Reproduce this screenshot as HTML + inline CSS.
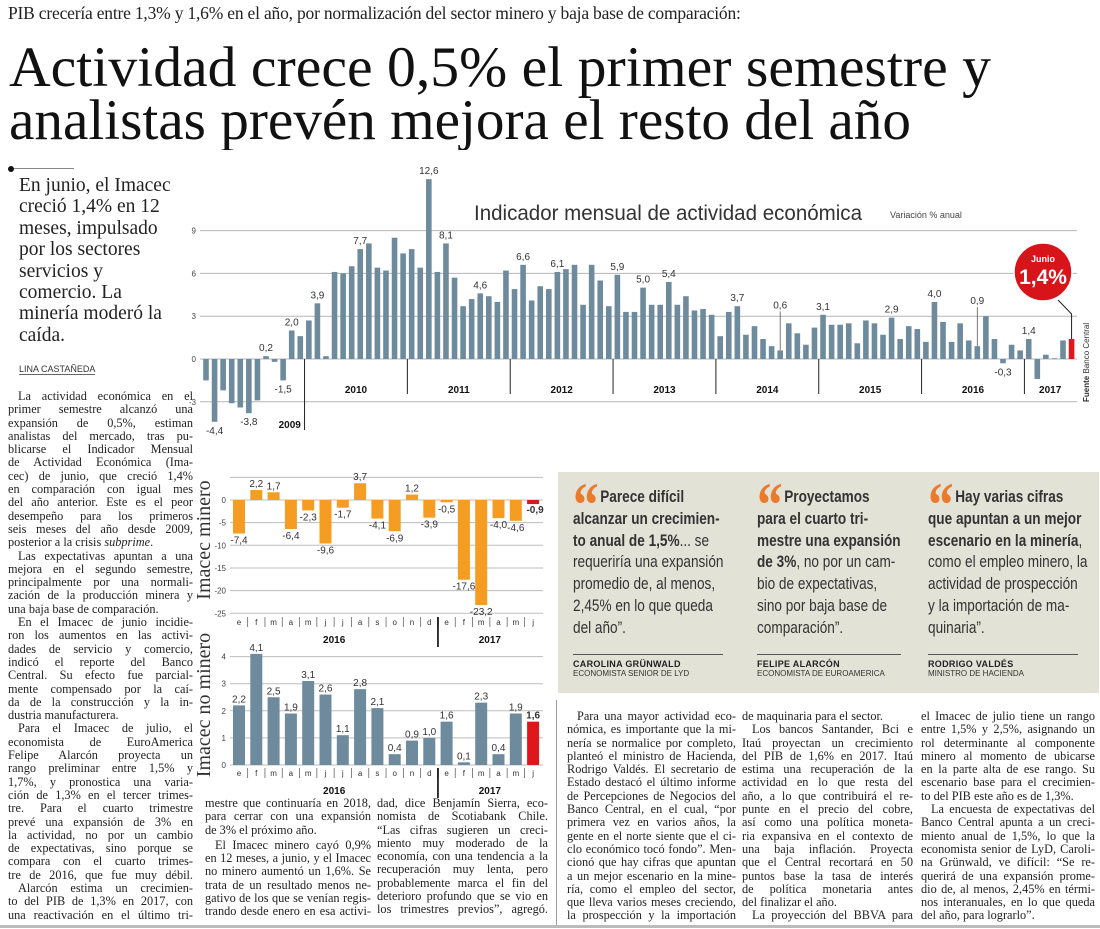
<!DOCTYPE html>
<html><head><meta charset="utf-8">
<style>
*{margin:0;padding:0;box-sizing:border-box}
body{width:1100px;height:929px;background:#fff;position:relative;overflow:hidden;font-family:"Liberation Serif",serif;color:#222}
.abs{position:absolute}
.col{position:absolute;font-family:"Liberation Serif",serif;font-size:12.3px;color:#222}
.col .l{display:block;height:13.3px;line-height:13.3px;text-align:justify;text-align-last:justify;overflow:hidden}
.col .e{text-align-last:left}
.col .i{text-indent:10px}
.q{position:absolute;font-family:"Liberation Sans Narrow","Liberation Sans",sans-serif;font-size:17px;color:#333;line-height:21.8px;white-space:nowrap;transform:scaleX(0.8);transform-origin:0 0}
.q b{color:#333}
.qm{color:#ec7a2c;font-family:"Liberation Serif",serif;font-weight:bold;font-size:64px;line-height:0;vertical-align:-24px;letter-spacing:-2px;margin-right:4px}
.qr{position:absolute;height:1px;background:#555}
.qn{position:absolute;font-family:"Liberation Sans",sans-serif;font-weight:bold;font-size:9px;color:#222;letter-spacing:.3px}
.qt{position:absolute;font-family:"Liberation Sans",sans-serif;font-size:8px;color:#333}
</style></head>
<body>
<div class="abs" style="left:8px;top:3px;font-size:17.5px;letter-spacing:-0.2px;color:#222">PIB crecería entre 1,3% y 1,6% en el año, por normalización del sector minero y baja base de comparación:</div>
<svg class="abs" style="left:0;top:0" width="1100" height="150">
<text x="9" y="86" font-family="Liberation Serif, serif" font-size="57" fill="#111" textLength="982" lengthAdjust="spacingAndGlyphs">Actividad crece 0,5% el primer semestre y</text>
<text x="9" y="139" font-family="Liberation Serif, serif" font-size="57" fill="#111" textLength="902" lengthAdjust="spacingAndGlyphs">analistas prevén mejora el resto del año</text>
</svg>

<div class="abs" style="left:10px;top:168px;width:64px;height:1px;background:#888"></div>
<div class="abs" style="left:8px;top:166px;width:6px;height:6px;border-radius:3px;background:#111"></div>
<div class="abs" style="left:19px;top:175px;width:185px;font-size:19.5px;line-height:21.4px;color:#222;white-space:nowrap">En junio, el Imacec<br>creció 1,4% en 12<br>meses, impulsado<br>por los sectores<br>servicios y<br>comercio. La<br>minería moderó la<br>caída.</div>
<div class="abs" style="left:19px;top:364px;font-family:'Liberation Sans Narrow','Liberation Sans',sans-serif;font-size:9px;color:#333;border-bottom:1px solid #666">LINA CASTAÑEDA</div>

<div class="col" style="left:8px;top:390px;width:185px">
<span class="l i">La actividad económica en el</span><span class="l">primer semestre alcanzó una</span><span class="l">expansión de 0,5%, estiman</span><span class="l">analistas del mercado, tras pu-</span><span class="l">blicarse el Indicador Mensual</span><span class="l">de Actividad Económica (Ima-</span><span class="l">cec) de junio, que creció 1,4%</span><span class="l">en comparación con igual mes</span><span class="l">del año anterior. Este es el peor</span><span class="l">desempeño para los primeros</span><span class="l">seis meses del año desde 2009,</span><span class="l e">posterior a la crisis <i>subprime</i>.</span>
<span class="l i">Las expectativas apuntan a una</span><span class="l">mejora en el segundo semestre,</span><span class="l">principalmente por una normali-</span><span class="l">zación de la producción minera y</span><span class="l e">una baja base de comparación.</span>
<span class="l i">En el Imacec de junio incidie-</span><span class="l">ron los aumentos en las activi-</span><span class="l">dades de servicio y comercio,</span><span class="l">indicó el reporte del Banco</span><span class="l">Central. Su efecto fue parcial-</span><span class="l">mente compensado por la caí-</span><span class="l">da de la construcción y la in-</span><span class="l e">dustria manufacturera.</span>
<span class="l i">Para el Imacec de julio, el</span><span class="l">economista de EuroAmerica</span><span class="l">Felipe Alarcón proyecta un</span><span class="l">rango preliminar entre 1,5% y</span><span class="l">1,7%, y pronostica una varia-</span><span class="l">ción de 1,3% en el tercer trimes-</span><span class="l">tre. Para el cuarto trimestre</span><span class="l">prevé una expansión de 3% en</span><span class="l">la actividad, no por un cambio</span><span class="l">de expectativas, sino porque se</span><span class="l">compara con el cuarto trimes-</span><span class="l">tre de 2016, que fue muy débil.</span>
<span class="l i">Alarcón estima un crecimien-</span><span class="l">to del PIB de 1,3% en 2017, con</span><span class="l">una reactivación en el último tri-</span>
</div>

<div class="col" style="left:205px;top:797px;width:166px">
<span class="l">mestre que continuaría en 2018,</span><span class="l">para cerrar con una expansión</span><span class="l e">de 3% el próximo año.</span>
<span class="l i" style="margin-top:2px">El Imacec minero cayó 0,9%</span><span class="l">en 12 meses, a junio, y el Imacec</span><span class="l">no minero aumentó un 1,6%. Se</span><span class="l">trata de un resultado menos ne-</span><span class="l">gativo de los que se venían regis-</span><span class="l">trando desde enero en esa activi-</span>
</div>
<div class="col" style="left:377px;top:797px;width:171px">
<span class="l">dad, dice Benjamín Sierra, eco-</span><span class="l">nomista de Scotiabank Chile.</span><span class="l">“Las cifras sugieren un creci-</span><span class="l">miento muy moderado de la</span><span class="l">economía, con una tendencia a la</span><span class="l">recuperación muy lenta, pero</span><span class="l">probablemente marca el fin del</span><span class="l">deterioro profundo que se vio en</span><span class="l">los trimestres previos”, agregó.</span>
</div>
<div class="col" style="left:567px;top:710px;width:169px">
<span class="l i">Para una mayor actividad eco-</span><span class="l">nómica, es importante que la mi-</span><span class="l">nería se normalice por completo,</span><span class="l">planteó el ministro de Hacienda,</span><span class="l">Rodrigo Valdés. El secretario de</span><span class="l">Estado destacó el último informe</span><span class="l">de Percepciones de Negocios del</span><span class="l">Banco Central, en el cual, “por</span><span class="l">primera vez en varios años, la</span><span class="l">gente en el norte siente que el ci-</span><span class="l">clo económico tocó fondo”. Men-</span><span class="l">cionó que hay cifras que apuntan</span><span class="l">a un mejor escenario en la mine-</span><span class="l">ría, como el empleo del sector,</span><span class="l">que lleva varios meses creciendo,</span><span class="l">la prospección y la importación</span>
</div>
<div class="col" style="left:742px;top:710px;width:171px">
<span class="l e">de maquinaria para el sector.</span><span class="l i">Los bancos Santander, Bci e</span><span class="l">Itaú proyectan un crecimiento</span><span class="l">del PIB de 1,6% en 2017. Itaú</span><span class="l">estima una recuperación de la</span><span class="l">actividad en lo que resta del</span><span class="l">año, a lo que contribuirá el re-</span><span class="l">punte en el precio del cobre,</span><span class="l">así como una política moneta-</span><span class="l">ria expansiva en el contexto de</span><span class="l">una baja inflación. Proyecta</span><span class="l">que el Central recortará en 50</span><span class="l">puntos base la tasa de interés</span><span class="l">de política monetaria antes</span><span class="l e">del finalizar el año.</span><span class="l i">La proyección del BBVA para</span>
</div>
<div class="col" style="left:921px;top:710px;width:174px">
<span class="l">el Imacec de julio tiene un rango</span><span class="l">entre 1,5% y 2,5%, asignando un</span><span class="l">rol determinante al componente</span><span class="l">minero al momento de ubicarse</span><span class="l">en la parte alta de ese rango. Su</span><span class="l">escenario base para el crecimien-</span><span class="l e">to del PIB este año es de 1,3%.</span><span class="l i">La encuesta de expectativas del</span><span class="l">Banco Central apunta a un creci-</span><span class="l">miento anual de 1,5%, lo que la</span><span class="l">economista senior de LyD, Caroli-</span><span class="l">na Grünwald, ve difícil: “Se re-</span><span class="l">querirá de una expansión prome-</span><span class="l">dio de, al menos, 2,45% en térmi-</span><span class="l">nos interanuales, en lo que queda</span><span class="l e">del año, para lograrlo”.</span>
</div>

<div class="abs" style="left:558px;top:472px;width:541px;height:221px;background:#e3e2d7"></div>
<div class="q" style="left:573px;top:486px"><span class="qm">“</span><b>Parece difícil</b><br><b>alcanzar un crecimien-</b><br><b>to anual de 1,5%</b>... se<br>requeriría una expansión<br>promedio de, al menos,<br>2,45% en lo que queda<br>del año”.</div>
<div class="q" style="left:757px;top:486px"><span class="qm">“</span><b>Proyectamos</b><br><b>para el cuarto tri-</b><br><b>mestre una expansión</b><br><b>de 3%</b>, no por un cam-<br>bio de expectativas,<br>sino por baja base de<br>comparación”.</div>
<div class="q" style="left:928px;top:486px"><span class="qm">“</span><b>Hay varias cifras</b><br><b>que apuntan a un mejor</b><br><b>escenario en la minería</b>,<br>como el empleo minero, la<br>actividad de prospección<br>y la importación de ma-<br>quinaria”.</div>
<div class="qr" style="left:573px;top:654px;width:150px"></div>
<div class="qr" style="left:757px;top:654px;width:144px"></div>
<div class="qr" style="left:928px;top:654px;width:150px"></div>
<div class="qn" style="left:573px;top:659px">CAROLINA GRÜNWALD</div>
<div class="qt" style="left:573px;top:669px">ECONOMISTA SENIOR DE LYD</div>
<div class="qn" style="left:757px;top:659px">FELIPE ALARCÓN</div>
<div class="qt" style="left:757px;top:669px">ECONOMISTA DE EUROAMERICA</div>
<div class="qn" style="left:928px;top:659px">RODRIGO VALDÉS</div>
<div class="qt" style="left:928px;top:669px">MINISTRO DE HACIENDA</div>
<div class="abs" style="left:556px;top:700px;width:1px;height:225px;background:#999"></div>
<div class="abs" style="left:0;top:925px;width:1100px;height:3px;background:#bbb"></div>

<svg id="charts" class="abs" style="left:0;top:0" width="1100" height="929"></svg>

<script>
// Main chart data: Imacec monthly % change, Jan 2009 – Jun 2017
const imacecValues = [
-1.5,-4.4,-2.2,-3.1,-3.4,-3.8,-2.9,0.2,-0.2,-1.5,2.0,1.6,
2.7,3.9,0.2,6.1,6.0,6.5,7.7,8.1,6.4,6.2,8.5,7.4,
7.7,6.4,12.6,6.1,8.1,5.7,3.7,4.2,4.6,4.4,4.0,6.2,
4.9,6.6,4.1,5.1,4.9,6.1,6.3,6.6,3.8,6.6,5.5,3.7,
5.9,3.3,3.3,5.0,3.8,3.8,5.4,3.8,4.4,3.4,3.5,3.1,
1.6,3.3,3.7,1.7,2.3,1.4,0.9,0.6,2.5,1.8,1.0,2.2,
3.1,2.4,2.4,2.5,1.1,2.7,2.5,1.7,2.9,1.4,2.3,2.1,
1.2,4.0,2.6,1.2,2.5,1.3,0.9,3.0,1.4,-0.3,1.0,0.6,
1.4,-1.4,0.3,0.05,1.3,1.4];
const imacecYears = ["2009","2010","2011","2012","2013","2014","2015","2016","2017"];
const imacecTicks = [9,6,3,0,-3];
const imacecLabelIdx = [1,5,7,9,10,13,18,26,28,32,37,41,48,51,54,62,67,72,80,85,90,93,96];
const imacecLeaderIdx = [67,90];

// Lower charts data (Jan 2016 – Jun 2017)
const months = ["e","f","m","a","m","j","j","a","s","o","n","d","e","f","m","a","m","j"];
const mineroValues = [-7.4,2.2,1.7,-6.4,-2.3,-9.6,-1.7,3.7,-4.1,-6.9,1.2,-3.9,-0.5,-17.6,-23.2,-4.0,-4.6,-0.9];
const mineroTicks = [0,-5,-10,-15,-20,-25];
const noMineroValues = [2.2,4.1,2.5,1.9,3.1,2.6,1.1,2.8,2.1,0.4,0.9,1.0,1.6,0.1,2.3,0.4,1.9,1.6];
const noMineroTicks = [0,1,2,3,4];
const lowerYears = ["2016","2017"];

const svg = document.getElementById('charts');
const NS = 'http://www.w3.org/2000/svg';
function mk(tag, attrs, parent){const e=document.createElementNS(NS,tag);for(const k in attrs)e.setAttribute(k,attrs[k]);(parent||svg).appendChild(e);return e;}
const fmt = v => (Math.round(v*10)/10).toFixed(1).replace('.',',');
const BLUE='#6e8b9d', RED='#e0161d', ORANGE='#f49d22';

// ---------- main chart ----------
const mx = i => 206 + i*8.57;
const my = v => 359 - v*14.27;
let g = mk('g',{});


imacecTicks.forEach(t=>{
  const ln = mk('line',{x1:200,x2:1077,y1:my(t),y2:my(t),stroke:'#b5b5b5','stroke-width':1},g);
  
  
  const tx = mk('text',{x:196,y:my(t)+3,'text-anchor':'end','font-size':8,'font-family':'Liberation Sans, sans-serif',fill:'#444'},g);
  tx.textContent=t;
  
  
});
const t1 = mk('text',{x:474,y:220,'font-size':21,'font-family':'Liberation Sans, sans-serif',fill:'#333',textLength:388,lengthAdjust:'spacingAndGlyphs'},g);
t1.textContent='Indicador mensual de actividad económica';


const t2 = mk('text',{x:890,y:218,'font-size':9,'font-family':'Liberation Sans Narrow, Liberation Sans, sans-serif',fill:'#444'},g);
t2.textContent='Variación % anual';


imacecValues.forEach((v,i)=>{
  const last = i===imacecValues.length-1;
  const y0=my(0), y1=my(v);
  const r = mk('rect',{x:mx(i)-2.8,y:Math.min(y0,y1),width:5.6,height:Math.max(0.8,Math.abs(y1-y0)),fill:last?RED:BLUE},g);
  
  
});
imacecLabelIdx.forEach(i=>{
  const v=imacecValues[i];
  const lead = imacecLeaderIdx.includes(i);
  let y = v>=0 ? my(v)-5 : my(v)+12;
  if(lead){ y = my(v)-42; const l=mk('line',{x1:mx(i),x2:mx(i),y1:y+3,y2:my(v),stroke:'#555','stroke-width':0.8},g);
    
     }
  const tx = mk('text',{x:mx(i),y:y,'text-anchor':'middle','font-size':10,'font-family':'Liberation Sans, sans-serif',fill:'#333'},g);
  tx.textContent=fmt(v);
  
  
});
imacecYears.forEach((yr,k)=>{
  if(k>0){ const d=mk('line',{x1:mx(12*k)-4.3,x2:mx(12*k)-4.3,y1:359,y2:k===1?430:394,stroke:'#222','stroke-width':1},g);
    
     }
  const n = Math.min(12, imacecValues.length-12*k);
  let cx = k===0 ? mx(12)-8 : (mx(12*k)+mx(12*k+n-1))/2;
  const tx = mk('text',{x:cx,y:k===0?428:393,'text-anchor':k===0?'end':'middle','font-size':10,'font-weight':'bold','font-family':'Liberation Sans, sans-serif',fill:'#111'},g);
  tx.textContent=yr;
  
  
});
// Junio callout
const li = imacecValues.length-1;
const cl = mk('polyline',{points:`1058,300 ${mx(li)},314 ${mx(li)},${my(imacecValues[li])}`,fill:'none',stroke:'#222','stroke-width':1},g);


const cc = mk('circle',{cx:1043,cy:272,r:29,fill:'#d8141b',stroke:'#fff','stroke-width':1.5},g);


const cj = mk('text',{x:1043,y:262,'text-anchor':'middle','font-size':9,'font-weight':'bold','font-family':'Liberation Sans, sans-serif',fill:'#fff'},g);
cj.textContent='Junio';


const cv = mk('text',{x:1043,y:284,'text-anchor':'middle','font-size':21,'font-weight':'bold','font-family':'Liberation Sans, sans-serif',fill:'#fff'},g);
cv.textContent=fmt(imacecValues[li])+'%';


const src = mk('text',{x:0,y:0,transform:'translate(1089,402) rotate(-90)','font-size':8,'font-family':'Liberation Sans Narrow, Liberation Sans, sans-serif',fill:'#333'},g);
src.innerHTML='<tspan font-weight="bold">Fuente</tspan> Banco Central';



// ---------- lower charts ----------
function lower(opts){
  const {values,ticks,zeroY,scale,color,name,title,titleY,monthY,topExtra} = opts;
  const gx = i => 239 + i*17.3;
  const gy = v => zeroY - v*scale;
  const gg = mk('g',{});
  
  
  const lines = topExtra!=null ? ticks.concat([topExtra]) : ticks;
  lines.forEach(t=>{
    const ln=mk('line',{x1:230,x2:543,y1:gy(t),y2:gy(t),stroke:'#bdbdbd','stroke-width':1},gg);
    
    
  });
  ticks.forEach(t=>{
    const tx=mk('text',{x:226,y:gy(t)+3,'text-anchor':'end','font-size':8,'font-family':'Liberation Sans, sans-serif',fill:'#444'},gg);
    tx.textContent=t;
    
    
  });
  values.forEach((v,i)=>{
    const last=i===values.length-1;
    const y0=gy(0),y1=gy(v);
    const r=mk('rect',{x:gx(i)-6,y:Math.min(y0,y1),width:12,height:Math.max(0.8,Math.abs(y1-y0)),fill:last?RED:color},gg);
    
    
    const ly = v>=0 ? y1-3 : y1+10;
    const tx=mk('text',{x:last&&v<0?gx(i)+2:gx(i),y:last&&v<0?y0+13:ly,'text-anchor':'middle','font-size':10,'font-family':'Liberation Sans, sans-serif',fill:'#333','font-weight':last?'bold':'normal'},gg);
    tx.textContent=fmt(v);
    
    
  });
  months.forEach((m,i)=>{
    const tx=mk('text',{x:gx(i),y:monthY,'text-anchor':'middle','font-size':8,'font-family':'Liberation Sans, sans-serif',fill:'#333'},gg);
    tx.textContent=m;
    
    
    if(i>0){const s=mk('line',{x1:gx(i)-8.65,x2:gx(i)-8.65,y1:monthY-8,y2:monthY+2,stroke:'#666','stroke-width':i===12?1.8:0.8},gg);
      
      }
  });
  const dv=mk('line',{x1:gx(12)-8.65,x2:gx(12)-8.65,y1:monthY-8,y2:monthY+22,stroke:'#222','stroke-width':1.8},gg);
  
  
  lowerYears.forEach((yr,k)=>{
    const cx = k===0 ? (gx(0)+gx(11))/2 : (gx(12)+gx(17))/2;
    const tx=mk('text',{x:cx,y:monthY+18,'text-anchor':'middle','font-size':10,'font-weight':'bold','font-family':'Liberation Sans, sans-serif',fill:'#111'},gg);
    tx.textContent=yr;
    
    
  });
  const tt=mk('text',{x:0,y:0,transform:`translate(210,${titleY}) rotate(-90)`,'text-anchor':'middle','font-size':20,'font-family':'Liberation Serif, serif',fill:'#333'},gg);
  tt.textContent=title;
  
  
}
lower({values:mineroValues,ticks:mineroTicks,zeroY:500,scale:4.53,color:ORANGE,name:'imacec-minero',title:'Imacec minero',titleY:540,monthY:625,topExtra:5});
lower({values:noMineroValues,ticks:noMineroTicks,zeroY:765,scale:27.1,color:BLUE,name:'imacec-no-minero',title:'Imacec no minero',titleY:705,monthY:776,topExtra:null});
</script>
</body></html>
